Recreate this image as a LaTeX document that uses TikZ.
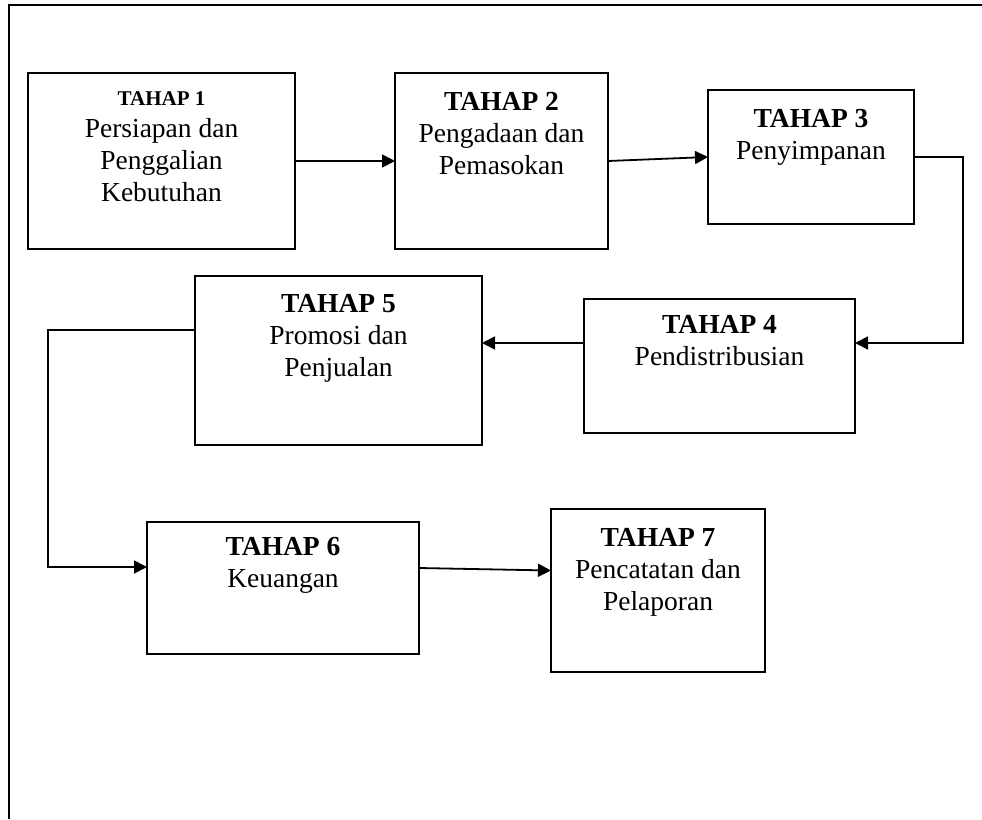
\documentclass[tikz,border=0pt]{standalone}
\usepackage{fontspec}
\setmainfont{Liberation Serif}
\usetikzlibrary{positioning, arrows.meta}

\begin{document}
\begin{tikzpicture}[
x=1pt, y=-1pt,
>={Triangle[length=13pt, width=13pt]},
every node/.style={font=\fontsize{27.5}{32}\selectfont},
stage/.style={rectangle, draw, line width=1.8pt, inner sep=0pt, outer sep=0pt, anchor=north west},
stagetext/.style={align=center, anchor=north, inner sep=0pt},
line/.style={->, line width=1.8pt}
]
\useasboundingbox (0,0) rectangle (982,819);

% Frame
\draw[line width=1.8pt] (9,819) -- (9,5) -- (982,5);

% Boxes
\node[stage, minimum width=267pt, minimum height=176pt] (b1) at (28,73) {};
\node[stage, minimum width=213pt, minimum height=176pt] (b2) at (395,73) {};
\node[stage, minimum width=206pt, minimum height=134pt] (b3) at (708,90) {};
\node[stage, minimum width=271pt, minimum height=134pt] (b4) at (584,299) {};
\node[stage, minimum width=287pt, minimum height=169pt] (b5) at (195,276) {};
\node[stage, minimum width=272pt, minimum height=132pt] (b6) at (147,522) {};
\node[stage, minimum width=214pt, minimum height=163pt] (b7) at (551,509) {};

% Texts
\node[stagetext] (t1) at ([yshift=-18pt]b1.north) {{\fontsize{21}{30}\selectfont\bfseries TAHAP 1}\\Persiapan dan\\Penggalian\\Kebutuhan};
\node[stagetext] (t2) at ([yshift=-19pt]b2.north) {\textbf{TAHAP 2}\\Pengadaan dan\\Pemasokan};
\node[stagetext] (t3) at ([yshift=-19pt]b3.north) {\textbf{TAHAP 3}\\Penyimpanan};
\node[stagetext] (t4) at ([yshift=-16pt]b4.north) {\textbf{TAHAP 4}\\Pendistribusian};
\node[stagetext] (t5) at ([yshift=-18pt]b5.north) {\textbf{TAHAP 5}\\Promosi dan\\Penjualan};
\node[stagetext] (t6) at ([yshift=-15pt]b6.north) {\textbf{TAHAP 6}\\Keuangan};
\node[stagetext] (t7) at ([yshift=-19pt]b7.north) {\textbf{TAHAP 7}\\Pencatatan dan\\Pelaporan};

% Connections
\draw[line] (b1.east) -- (b2.west);
\draw[line] (b2.east) -- (b3.west);
\draw[line] (b3.east) -- ++(49,0) |- ([yshift=23pt]b4.east);
\draw[line] ([yshift=23pt]b4.west) -- ([yshift=23pt]b4.west -| b5.east);
\draw[line] ([yshift=30.5pt]b5.west) -- ++(-147,0) |- ([yshift=21pt]b6.west);
\draw[line] ([yshift=20pt]b6.east) -- ([yshift=20pt]b7.west);

\end{tikzpicture}
\end{document}
